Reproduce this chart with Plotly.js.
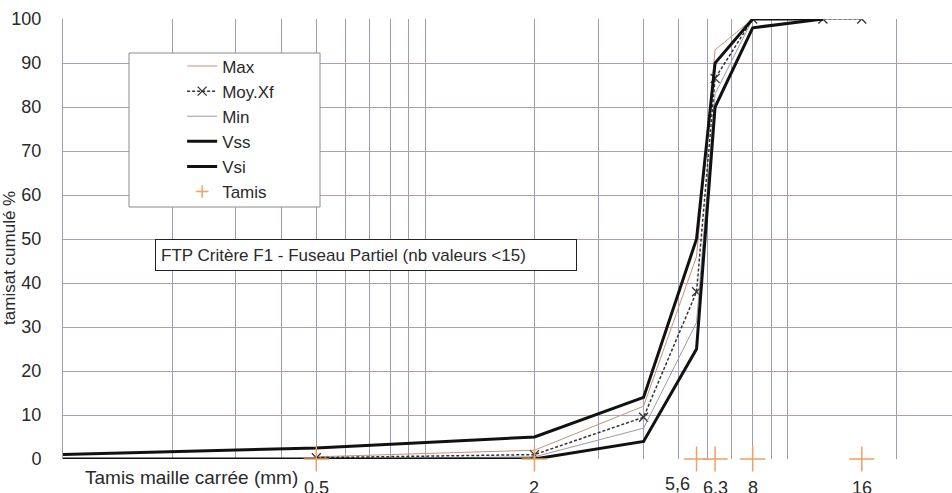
<!DOCTYPE html>
<html>
<head>
<meta charset="utf-8">
<script src="https://cdn.plot.ly/plotly-3.0.1.min.js"></script>
<style>html,body{margin:0;padding:0;background:#fff;}#chart{width:952px;height:493px;}</style>
</head>
<body>
<div id="chart"></div>
<script>
// Sieve sizes (mm)
var sieves = [0.1, 0.5, 2, 4, 5.6, 6.3, 8, 12.5, 16];
var maxVals = [null, 0.5, 2, 12, 46, 93, 100, 100, 100];
var moyVals = [null, 0.3, 1, 9.5, 38, 86.5, 100, 100, 100];
var minVals = [null, 0, 0.5, 7, 31, 83, 100, 100, 100];
var vssVals = [1, 2.5, 5, 14, 50, 90, 100, 100, null];
var vsiVals = [0, 0, 0, 4, 25, 80, 98, 100, null];
var tamisX = [0.5, 2, 5.6, 6.3, 8, 16];
var tamisY = [0, 0, 0, 0, 0, 0];
var tamisLabels = ["0,5", "2", "5,6", "6,3", "8", "16"];
var gridVals = [0.1,0.2,0.3,0.4,0.5,0.6,0.7,0.8,0.9,1,2,3,4,5,6,7,8,9,10,20,30];
var yTicks = [0,10,20,30,40,50,60,70,80,90,100];

// label placement tweaks (style, not data)
var labelShift = {"5,6": {dx: -19, dy: 4}};

var FONT = "Liberation Sans, Arial, sans-serif";
var TXT = "#2a2a2a";
var ORANGE = "#f0a060";

var traces = [
  {name: "Max", x: sieves, y: maxVals, mode: "lines", legendgroup: "a",
   line: {color: "#c4927e", width: 1}},
  {name: "Moy.Xf", x: sieves, y: moyVals, mode: "lines+markers", legendgroup: "b",
   line: {color: "#333333", width: 1.5, dash: "3px,2px"},
   marker: {symbol: "x-thin", size: 9, line: {color: "#333333", width: 1.3}}},
  {name: "Min", x: sieves, y: minVals, mode: "lines", legendgroup: "c",
   line: {color: "#9c9ca4", width: 1}},
  {name: "Vss", x: sieves, y: vssVals, mode: "lines", legendgroup: "d",
   line: {color: "#111111", width: 3}},
  {name: "Vsi", x: sieves, y: vsiVals, mode: "lines", legendgroup: "e",
   line: {color: "#111111", width: 3}},
  {name: "Tamis", x: tamisX, y: tamisY, mode: "markers", legendgroup: "f", cliponaxis: false,
   showlegend: false,
   marker: {symbol: "cross-thin", size: 18, line: {color: ORANGE, width: 1.5}}},
  // legend entry for Tamis (smaller symbol, as in the reference legend)
  {name: "Tamis", x: [null], y: [null], mode: "markers", legendgroup: "f",
   marker: {symbol: "cross-thin", size: 9, line: {color: ORANGE, width: 1.5}}}
];

var annotations = tamisX.map(function(v, i){
  var s = labelShift[tamisLabels[i]] || {dx: 0, dy: 0};
  return {x: Math.log10(v), y: 0, xref: "x", yref: "y", text: tamisLabels[i],
    showarrow: false, yanchor: "top", xanchor: "center", yshift: -17 + s.dy, xshift: s.dx,
    font: {family: FONT, size: 18, color: TXT}};
});
annotations.push({x: 0, y: -0.043, xref: "paper", yref: "paper", xanchor: "left", yanchor: "middle",
  xshift: 20, text: "Tamis maille carrée (mm)", showarrow: false,
  font: {family: FONT, size: 19, color: TXT}});
annotations.push({x: 0, y: 0.457, xref: "paper", yref: "paper", xanchor: "center", yanchor: "middle",
  xshift: -53, textangle: -90, text: "tamisat cumulé %", showarrow: false,
  font: {family: FONT, size: 17, color: TXT}});
annotations.push({x: (155-63)/889, y: (459-239)/440, xref: "paper", yref: "paper", xanchor: "left", yanchor: "top",
  text: "FTP Critère F1 - Fuseau Partiel (nb valeurs <15)", showarrow: false,
  width: 410, height: 20, align: "left", valign: "middle",
  bgcolor: "#ffffff", bordercolor: "#222222", borderwidth: 1, borderpad: 5,
  font: {family: FONT, size: 17, color: TXT}});

var layout = {
  width: 952, height: 493,
  margin: {l: 63, r: 0, t: 19, b: 34},
  paper_bgcolor: "#ffffff", plot_bgcolor: "#ffffff",
  showlegend: true,
  legend: {x: 0.134, y: 0.933, xanchor: "left", yanchor: "top",
    bgcolor: "rgba(0,0,0,0)", borderwidth: 0, tracegroupgap: 0,
    font: {family: FONT, size: 17, color: TXT}},
  shapes: [{type: "rect", xref: "paper", yref: "paper", layer: "above",
    x0: (129-63)/889, x1: (320-63)/889, y0: (459-207)/440, y1: (459-53)/440,
    fillcolor: "#ffffff", line: {color: "#8a8a8a", width: 1}}],
  xaxis: {type: "log", range: [-1, 1.4531], tickmode: "array", tickvals: gridVals,
    showticklabels: false, ticks: "", showgrid: true, gridcolor: "#9c9eb0", gridwidth: 1,
    zeroline: false, showline: false, fixedrange: true},
  yaxis: {range: [0, 100], tickmode: "array", tickvals: yTicks, ticks: "",
    ticklabelstandoff: 17, showgrid: true, gridcolor: "#ae9eb0", gridwidth: 1,
    zeroline: false, showline: true, linecolor: "#9c9eb0", linewidth: 1,
    tickfont: {family: FONT, size: 18, color: TXT}},
  annotations: annotations
};

Plotly.newPlot("chart", traces, layout, {displayModeBar: false, staticPlot: true});
</script>
</body>
</html>
